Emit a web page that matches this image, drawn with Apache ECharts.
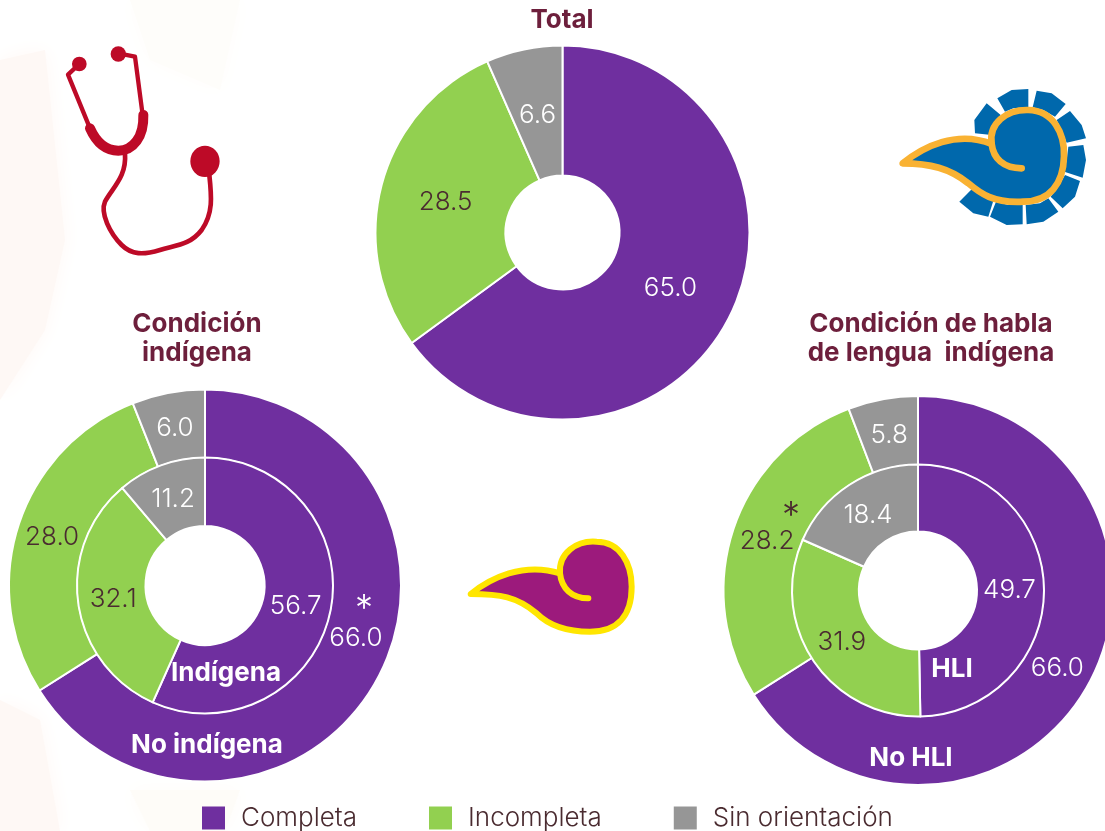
<!DOCTYPE html>
<html><head><meta charset="utf-8">
<style>html,body{margin:0;padding:0;background:#fff}#c{width:1105px;height:831px}</style>
<script src="https://cdn.jsdelivr.net/npm/echarts@6/dist/echarts.min.js"></script>
</head><body><div id="c"></div>
<script>
const categories = ['Completa', 'Incompleta', 'Sin orientación'];
const total = [65.0, 28.5, 6.6];
const noIndigena = [66.0, 28.0, 6.0];
const indigena = [56.7, 32.1, 11.2];
const noHli = [66.0, 28.2, 5.8];
const hli = [49.7, 31.9, 18.4];

const colors = ['#6f2f9f', '#92d050', '#969696'];
const labelColors = ['#ffffff', '#4a2b30', '#ffffff'];
const FONT = 'Inter, "Open Sans", sans-serif';
const TITLE = '#6d1f3c';

function ring(name, values, center, radius, extra) {
  return {
    type: 'pie', name, center, radius, startAngle: 90, clockwise: true,
    silent: true, animation: false, avoidLabelOverlap: false,
    labelLine: { show: false },
    labelLayout: p => {
      const r = p.labelRect;
      const vx = center[0] - (r.x + r.width / 2), vy = center[1] - (r.y + r.height / 2);
      const len = Math.hypot(vx, vy) || 1;
      const e = (extra && extra[p.dataIndex]) || [0, 0];
      return { dx: vx / len * 4 + e[0], dy: vy / len * 4 + 1 + e[1] };
    },
    itemStyle: { borderColor: '#fff', borderWidth: 2 },
    data: values.map((v, i) => ({
      name: categories[i], value: v,
      itemStyle: { color: colors[i] },
      label: {
        show: true, position: 'inside', fontFamily: FONT, fontSize: 26, fontWeight: 300,
        color: labelColors[i], formatter: p => p.value.toFixed(1)
      }
    }))
  };
}
function txt(x, y, text, size, color, weight, align) {
  return { type: 'text', x, y, z: 10, silent: true,
    style: { text, fill: color, fontFamily: FONT, fontSize: size, fontWeight: weight || 400, align: align || 'center', verticalAlign: 'middle', lineHeight: 29 } };
}
let shapeCount = 0;
function pathShape(d) {
  const n = 'deco' + (shapeCount++);
  echarts.graphic.registerShape(n, echarts.graphic.extendPath(d, {}));
  return n;
}
function glyph(x, y, d, fill, stroke, w) {
  return { type: pathShape(d), x, y, scaleX: 1/3, scaleY: 1/3, silent: true, z: 3,
    style: { fill: fill || 'none', stroke: stroke || 'none', lineWidth: w || 0, lineCap: 'round', lineJoin: 'round' } };
}
const poly = p => 'M' + p.map(q => q.join(',')).join('L') + 'Z';

const rays = [
 [[285,190],[283,150],[320,100],[362,135],[340,165],[335,195]],
 [[352,85],[395,60],[445,57],[445,112],[400,115],[375,125]],
 [[470,62],[515,70],[557,102],[525,140],[490,120],[458,112]],
 [[570,123],[605,165],[618,205],[560,218],[545,180],[530,150]],
 [[565,230],[610,225],[618,270],[608,323],[553,305],[560,270]],
 [[555,315],[600,333],[585,380],[548,415],[512,380],[535,350]],
 [[505,385],[535,425],[490,455],[440,463],[437,405],[480,400]],
 [[428,405],[428,463],[380,465],[330,440],[348,395],[385,405]],
 [[275,358],[340,392],[325,440],[280,430],[238,395]]
];
const blueBody = 'M68,280C130,230 230,180 335,222C325,160 380,118 445,120C520,122 555,190 552,260C550,340 510,395 430,395C340,400 300,370 265,340C210,295 150,280 68,280Z';
const blueCurl = 'M335,222C340,265 370,295 425,295';
const purpleBody = 'M62,222C120,175 220,125 330,160C325,100 380,60 440,65C510,65 545,130 545,200C545,290 500,335 420,335C340,335 290,310 260,280C200,230 150,222 62,222Z';
const purpleCurl = 'M330,160C335,205 365,235 415,235';

const RED = '#bd0a27';
const steth = [
  glyph(0,0,'M238,170A22,22 0 1 1 237.9,170Z', RED),
  glyph(0,0,'M355,139A23,23 0 1 1 354.9,139Z', RED),
  glyph(0,0,'M615,437A44,47 0 1 1 614.9,437Z', RED),
  glyph(0,0,'M238,192L204,224L270,385', null, RED, 13),
  glyph(0,0,'M355,160L405,170L428,345', null, RED, 13),
  glyph(0,0,'M270,385C290,430 320,452 355,452C400,452 432,410 430,345', null, RED, 30),
  glyph(0,0,'M375,460C380,530 340,560 315,605C300,640 330,700 365,735C395,765 430,765 480,750C530,735 570,735 605,690C640,640 635,590 628,525', null, RED, 14)
];

const bgPatches = [
  ['M0,60L45,50L65,240L45,330L0,400Z', '#fef8f5'],
  ['M0,700L40,720L60,831L0,831Z', '#fef8f5'],
  ['M130,0L240,0L220,90L150,60Z', '#fefdfa'],
  ['M130,790L240,790L225,831L150,831Z', '#fefcf8']
].map(([d, c]) => ({ type: pathShape(d), z: -1, silent: true, style: { fill: c, shadowColor: c, shadowBlur: 20 } }));

const titleStyle = { fontFamily: FONT, fontSize: 26, fontWeight: 700, color: TITLE, lineHeight: 29 };
const option = {
  backgroundColor: '#fff',
  animation: false,
  color: colors,
  title: [
    { text: 'Total', left: 562, top: 6, padding: 0, textAlign: 'center', textStyle: titleStyle },
    { text: 'Condición\nindígena', left: 197, top: 310, padding: 0, textAlign: 'center', textStyle: titleStyle },
    { text: 'Condición de habla\nde lengua  indígena', left: 931, top: 310, padding: 0, textAlign: 'center', textStyle: titleStyle }
  ],
  legend: {
    show: true, left: 202, top: 805, padding: 0, itemWidth: 23, itemHeight: 23, itemGap: 72, icon: 'rect',
    selectedMode: false, data: categories,
    itemStyle: { borderWidth: 0 },
    textStyle: { fontFamily: FONT, fontSize: 26, fontWeight: 300, color: '#4a2b30', padding: [0, 0, 0, 11] }
  },
  series: [
    ring('Total', total, [562.5, 232.5], [57, 187]),
    ring('No indígena', noIndigena, [205, 585.5], [127.5, 196], { 0: [10, -26] }),
    ring('Indígena', indigena, [205, 585.5], [59.5, 128]),
    ring('No HLI', noHli, [918, 590.5], [125.5, 194.5]),
    ring('HLI', hli, [918, 590.5], [59, 126])
  ],
  graphic: { elements: [
    ...bgPatches,
    ...steth,
    ...rays.map(r => glyph(880, 70, poly(r), '#0068ac')),
    glyph(880, 70, blueBody, '#0068ac', '#f9b233', 20),
    glyph(880, 70, blueCurl, null, '#f9b233', 20),
    glyph(450, 520, purpleBody, '#9c1a7c', '#ffe600', 18),
    glyph(450, 520, purpleCurl, null, '#ffe600', 18),
    txt(226, 673, 'Indígena', 26, '#fff', 700),
    txt(207, 745, 'No indígena', 26, '#fff', 700),
    txt(952, 669, 'HLI', 26, '#fff', 700),
    txt(911, 758, 'No HLI', 26, '#fff', 700),
    txt(364, 609, '*', 36, '#fff', 300),
    txt(791, 516, '*', 36, '#4a2b30', 300)
  ]}
};
echarts.init(document.getElementById('c'), null, { renderer: 'canvas' }).setOption(option);
</script></body></html>
